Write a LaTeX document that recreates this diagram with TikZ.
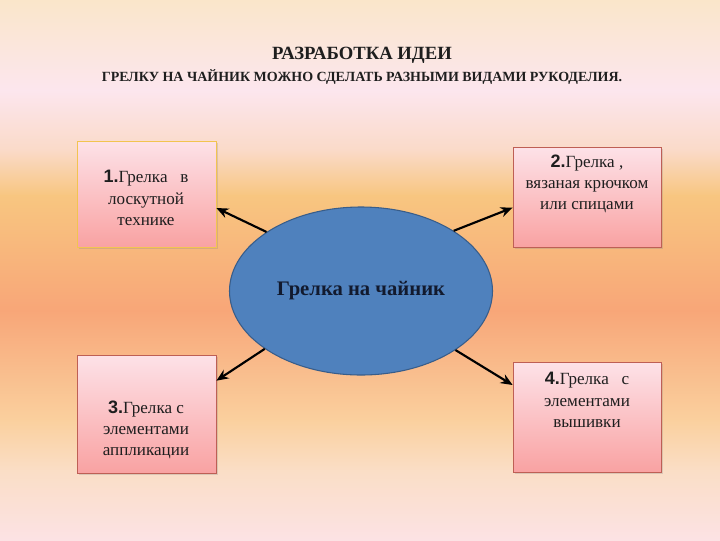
\documentclass[tikz,border=0pt]{standalone}
\usepackage{fontspec}
\setmainfont{Liberation Serif}
\newfontfamily\numfont{Liberation Sans}
\usetikzlibrary{arrows.meta,shapes.geometric,shadows}
\definecolor{bgA}{RGB}{250,230,202}
\definecolor{bgB}{RGB}{252,230,238}
\definecolor{bgC}{RGB}{250,218,200}
\definecolor{bgD}{RGB}{248,198,128}
\definecolor{bgE}{RGB}{248,166,120}
\definecolor{bgF}{RGB}{250,208,158}
\definecolor{bgG}{RGB}{250,222,198}
\definecolor{bgH}{RGB}{252,226,228}
\definecolor{boxtop}{RGB}{253,226,232}
\definecolor{boxbot}{RGB}{249,162,162}
\definecolor{boxline}{RGB}{190,95,85}
\definecolor{goldline}{RGB}{242,196,80}
\definecolor{ellblue}{RGB}{79,129,189}
\definecolor{ellline}{RGB}{56,93,138}
\definecolor{navy}{RGB}{18,26,46}
\definecolor{txt}{RGB}{30,30,30}
\tikzset{
  box/.style={draw=boxline, line width=0.6pt, top color=boxtop, bottom color=boxbot,
    drop shadow={opacity=0.25, shadow xshift=1.5pt, shadow yshift=-1.5pt}, inner sep=0pt},
  boxtext/.style={align=center, text=txt, font=\fontsize{12.8}{16}\selectfont, inner sep=0pt},
  title/.style={text=txt, font=\bfseries\fontsize{10.5}{12}\selectfont, inner sep=0pt},
  arr/.style={-{Stealth[length=9pt,width=7.5pt]}, line width=1.6pt, black},
}
\newcommand{\num}[1]{{\numfont\bfseries\fontsize{13.5}{16}\selectfont #1}}
\begin{document}
\begin{tikzpicture}[x=0.75pt,y=-0.75pt]
\useasboundingbox (0,0) rectangle (720,540);
% background
\fill[top color=bgA, bottom color=bgB] (0,0) rectangle (720,91);
\fill[top color=bgB, bottom color=bgC] (0,90) rectangle (720,151);
\fill[top color=bgC, bottom color=bgD] (0,150) rectangle (720,196);
\fill[top color=bgD, bottom color=bgE] (0,195) rectangle (720,311);
\fill[top color=bgE, bottom color=bgF] (0,310) rectangle (720,421);
\fill[top color=bgF, bottom color=bgG] (0,420) rectangle (720,471);
\fill[top color=bgG, bottom color=bgH] (0,470) rectangle (720,540);
% titles
\node[title, font=\bfseries\fontsize{14}{16}\selectfont] (h1) at (362,55) {РАЗРАБОТКА ИДЕИ};
\node[title] (h2) at (362,77) {ГРЕЛКУ НА ЧАЙНИК МОЖНО СДЕЛАТЬ РАЗНЫМИ ВИДАМИ РУКОДЕЛИЯ.};
% boxes
\node[box, draw=goldline, minimum width=104.25pt, minimum height=79.5pt] (b1) at (146.5,194) {};
\node[box, minimum width=111pt, minimum height=75pt] (b2) at (587,197) {};
\node[box, minimum width=104.25pt, minimum height=88.5pt] (b3) at (146.5,414) {};
\node[box, minimum width=111pt, minimum height=82.5pt] (b4) at (587,417) {};
\node[boxtext] (t1) at (146,198) {\num{1.}Грелка~~~в\\лоскутной\\технике};
\node[boxtext] (t2) at (587,184) {\num{2.}Грелка ,\\вязаная крючком\\или спицами};
\node[boxtext] (t3) at (146,430) {\num{3.}Грелка с\\элементами\\аппликации};
\node[boxtext] (t4) at (587,400) {\num{4.}Грелка~~~с\\элементами\\вышивки};
% ellipse
\node[ellipse, draw=ellline, line width=0.8pt, fill=ellblue, minimum width=197.25pt, minimum height=126pt, inner sep=0pt,
  text=navy, font=\bfseries\fontsize{15.5}{18}\selectfont] (ell) at (361,291) {Грелка на чайник};
% arrows
\draw[arr] (ell.148) -- ([yshift=-10.5pt]b1.east);
\draw[arr] (ell.33) -- ([yshift=-8pt]b2.west);
\draw[arr] (ell.211) -- ([yshift=25pt]b3.east);
\draw[arr] (ell.328) -- ([yshift=24pt]b4.west);
\end{tikzpicture}
\end{document}
